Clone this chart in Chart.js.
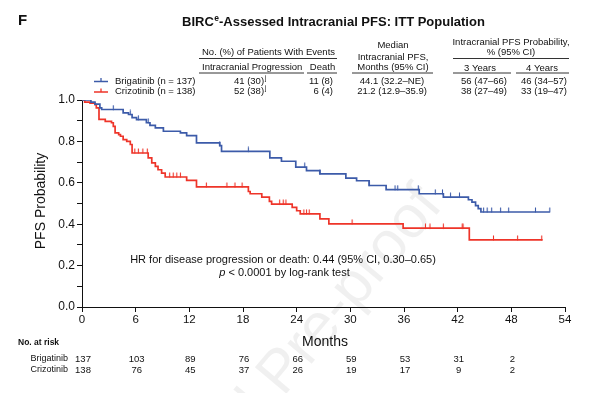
<!DOCTYPE html>
<html>
<head>
<meta charset="utf-8">
<script src="https://cdn.jsdelivr.net/npm/chart.js@4.4.1/dist/chart.umd.min.js"></script>
<style>
  html, body { margin: 0; padding: 0; background: #fff; }
</style>
</head>
<body>
<canvas id="km" width="599" height="393"></canvas>
<script>
// KM steps: month of each drop and the survival after it
const brigTimes = [1.0, 1.45, 2.0, 2.2, 4.6, 5.2, 5.6, 6.1, 7.2, 7.6, 8.2, 9.1, 11.0, 11.7, 12.8, 15.4, 15.6,
    21.0, 22.3, 23.9, 25.1, 26.6, 29.5, 30.7, 32.1, 34.0, 37.7, 40.4, 43.2, 43.6, 44.0, 44.3, 44.6];
const brigSurv = [0.99, 0.98, 0.962, 0.954, 0.938, 0.93, 0.915, 0.905, 0.89, 0.877, 0.865, 0.849, 0.841, 0.828, 0.793, 0.78, 0.752,
    0.72, 0.704, 0.676, 0.659, 0.643, 0.623, 0.61, 0.587, 0.567, 0.547, 0.531, 0.518, 0.507, 0.49, 0.475, 0.459];
const brigCensor = [3.5, 5.4, 6.3, 7.4, 15.4, 18.6, 24.9, 26.6, 32.1, 35.0, 35.3, 37.6, 39.5, 40.3, 41.2, 42.2,
    44.9, 45.3, 45.8, 46.8, 47.7, 50.7, 52.3];
const brigEnd = 52.3;

const crizTimes = [0.3, 0.9, 1.45, 1.6, 1.9, 2.6, 3.3, 3.5, 3.7, 4.1, 4.3, 4.6, 5.0, 5.4, 5.6, 7.4, 7.8, 8.2, 8.5, 8.9, 9.3,
    11.7, 12.8, 18.6, 18.8, 20.1, 20.95, 21.2, 23.5, 24.0, 24.4, 26.6, 27.6, 35.9, 43.3];
const crizSurv = [0.99, 0.985, 0.978, 0.962, 0.906, 0.897, 0.89, 0.873, 0.841, 0.833, 0.825, 0.809, 0.8, 0.785, 0.744, 0.72, 0.696, 0.679, 0.663, 0.647, 0.628,
    0.612, 0.58, 0.558, 0.547, 0.531, 0.51, 0.497, 0.481, 0.465, 0.45, 0.426, 0.402, 0.381, 0.324];
const crizCensor = [5.9, 6.3, 6.8, 7.3, 9.8, 10.2, 10.6, 11.0, 13.9, 16.2, 17.1, 17.9, 22.1, 22.5, 22.8, 24.8, 25.1, 25.4,
    30.2, 38.4, 38.9, 40.4, 42.5, 42.6, 46.0, 48.7, 51.4];
const crizEnd = 51.5;

const monthTicks = [0, 6, 12, 18, 24, 30, 36, 42, 48, 54];
const riskBrig = [137, 103, 89, 76, 66, 59, 53, 31, 2];
const riskCriz = [138, 76, 45, 37, 26, 19, 17, 9, 2];

const armNames = ['Brigatinib (n = 137)', 'Crizotinib (n = 138)'];
const eventsProg = ['41 (30)', '52 (38)'];
const eventsDeath = ['11 (8)', '6 (4)'];
const medianPfs = ['44.1 (32.2\u2013NE)', '21.2 (12.9\u201335.9)'];
const prob3y = ['56 (47\u201366)', '38 (27\u201349)'];
const prob4y = ['46 (34\u201357)', '33 (19\u201347)'];

const BLUE = '#3c5ba9';
const RED = '#ee3429';
const FONT = '"Liberation Sans", Arial, sans-serif';

function stepPoints(times, surv, end) {
    const pts = [{ x: 0, y: 1 }];
    times.forEach((t, i) => pts.push({ x: t, y: surv[i] }));
    pts.push({ x: end, y: surv[surv.length - 1] });
    return pts;
}

function survAt(times, surv, t) {
    let s = 1;
    times.forEach((tt, i) => { if (tt <= t) s = surv[i]; });
    return s;
}

function censorPoints(censor, times, surv) {
    return censor.map(t => ({ x: t, y: survAt(times, surv, t) }));
}

// small upward tick used as censor mark (sits on top of the curve)
function censorTick(color) {
    const c = document.createElement('canvas');
    c.width = 3; c.height = 10;
    const g = c.getContext('2d');
    g.strokeStyle = color;
    g.lineWidth = 1.1;
    g.beginPath();
    g.moveTo(1.5, 0.5);
    g.lineTo(1.5, 5.5);
    g.stroke();
    return c;
}

function txt(ctx, s, x, y, size, align, opts) {
    opts = opts || {};
    ctx.font = (opts.italic ? 'italic ' : '') + (opts.bold ? 'bold ' : '') + size + 'px ' + FONT;
    ctx.textAlign = align || 'left';
    ctx.textBaseline = opts.baseline || 'middle';
    ctx.fillStyle = opts.color || '#111';
    ctx.fillText(s, x, y);
    return ctx.measureText(s).width;
}

function hline(ctx, x1, x2, y) {
    ctx.beginPath();
    ctx.moveTo(x1, y + 0.5);
    ctx.lineTo(x2, y + 0.5);
    ctx.strokeStyle = '#333';
    ctx.lineWidth = 1;
    ctx.stroke();
}

const decorations = {
    id: 'decorations',
    beforeDraw(chart) {
        const ctx = chart.ctx;
        ctx.save();
        ctx.translate(444, 206);
        ctx.rotate(-50 * Math.PI / 180);
        txt(ctx, 'Journal Pre-proof', 0, 0, 60, 'right', { baseline: 'alphabetic', color: 'rgba(0,0,0,0.06)' });
        ctx.restore();
    },
    afterDraw(chart) {
        const ctx = chart.ctx;
        const xs = chart.scales.x;
        ctx.save();

        // panel letter and title
        txt(ctx, 'F', 18, 25, 15, 'left', { bold: true, baseline: 'alphabetic' });
        let x = 182;
        x += txt(ctx, 'BIRC', x, 26, 13, 'left', { bold: true, baseline: 'alphabetic' });
        x += txt(ctx, 'e', x + 0.5, 21, 8.5, 'left', { bold: true, baseline: 'alphabetic' }) + 0.5;
        txt(ctx, '-Assessed Intracranial PFS: ITT Population', x, 26, 13, 'left', { bold: true, baseline: 'alphabetic' });

        // header table
        const fs = 9.5;
        txt(ctx, 'No. (%) of Patients With Events', 202, 52.5, fs, 'left');
        hline(ctx, 199, 337, 58);
        txt(ctx, 'Intracranial Progression', 202, 67.5, fs, 'left');
        hline(ctx, 199, 304, 72.5);
        txt(ctx, 'Death', 322.5, 67.5, fs, 'center');
        hline(ctx, 307, 337, 72.5);
        txt(ctx, 'Median', 393, 45, fs, 'center');
        txt(ctx, 'Intracranial PFS,', 393, 57, fs, 'center');
        txt(ctx, 'Months (95% CI)', 393, 67.5, fs, 'center');
        hline(ctx, 352, 433, 72.5);
        txt(ctx, 'Intracranial PFS Probability,', 511, 42, fs, 'center');
        txt(ctx, '% (95% CI)', 511, 52.5, fs, 'center');
        hline(ctx, 453, 569, 58);
        txt(ctx, '3 Years', 480, 68.5, fs, 'center');
        hline(ctx, 453, 511, 72.5);
        txt(ctx, '4 Years', 542, 68.5, fs, 'center');
        hline(ctx, 516, 569, 72.5);

        [BLUE, RED].forEach((col, i) => {
            const y = 81 + i * 10.5;
            ctx.strokeStyle = col;
            ctx.lineWidth = 1.3;
            ctx.beginPath();
            ctx.moveTo(94, y + 0.5); ctx.lineTo(108, y + 0.5);
            ctx.moveTo(101, y - 3); ctx.lineTo(101, y + 0.5);
            ctx.stroke();
            txt(ctx, armNames[i], 115, y, fs, 'left');
            const w = txt(ctx, eventsProg[i], 249, y, fs, 'center');
            txt(ctx, 'j', 249 + w / 2 + 1, y - 3, 6.5, 'left');
            txt(ctx, eventsDeath[i], 333, y, fs, 'right');
            txt(ctx, medianPfs[i], 392, y, fs, 'center');
            txt(ctx, prob3y[i], 484, y, fs, 'center');
            txt(ctx, prob4y[i], 544, y, fs, 'center');
        });

        // hazard ratio note
        txt(ctx, 'HR for disease progression or death: 0.44 (95% CI, 0.30\u20130.65)', 283, 260, 11, 'center');
        ctx.font = '11px ' + FONT;
        const wRest = ctx.measureText(' < 0.0001 by log-rank test').width;
        ctx.font = 'italic 11px ' + FONT;
        const wP = ctx.measureText('p').width;
        const px = 284.5 - (wRest + wP) / 2;
        txt(ctx, 'p', px, 273, 11, 'left', { italic: true });
        txt(ctx, ' < 0.0001 by log-rank test', px + wP, 273, 11, 'left');

        // axis titles
        txt(ctx, 'Months', 325, 342, 14, 'center');
        ctx.save();
        ctx.translate(41, 201);
        ctx.rotate(-Math.PI / 2);
        txt(ctx, 'PFS Probability', 0, 0, 14, 'center');
        ctx.restore();

        // number at risk
        txt(ctx, 'No. at risk', 18, 343, 8.5, 'left', { bold: true });
        txt(ctx, 'Brigatinib', 68, 359, 9, 'right');
        txt(ctx, 'Crizotinib', 68, 370, 9, 'right');
        riskBrig.forEach((n, i) => txt(ctx, String(n), xs.getPixelForValue(monthTicks[i]) + 1, 359, 9.5, 'center'));
        riskCriz.forEach((n, i) => txt(ctx, String(n), xs.getPixelForValue(monthTicks[i]) + 1, 370, 9.5, 'center'));

        ctx.restore();
    }
};

new Chart(document.getElementById('km'), {
    type: 'line',
    data: {
        datasets: [
            {
                data: stepPoints(brigTimes, brigSurv, brigEnd),
                borderColor: BLUE, borderWidth: 1.7, stepped: 'before', pointRadius: 0, fill: false
            },
            {
                data: stepPoints(crizTimes, crizSurv, crizEnd),
                borderColor: RED, borderWidth: 1.7, stepped: 'before', pointRadius: 0, fill: false
            },
            {
                data: censorPoints(brigCensor, brigTimes, brigSurv),
                showLine: false, pointStyle: censorTick(BLUE), pointRadius: 3
            },
            {
                data: censorPoints(crizCensor, crizTimes, crizSurv),
                showLine: false, pointStyle: censorTick(RED), pointRadius: 3
            }
        ]
    },
    options: {
        responsive: false,
        animation: false,
        devicePixelRatio: 1,
        layout: { padding: { left: 0, top: 100, right: 34, bottom: 0 } },
        plugins: { legend: { display: false }, tooltip: { enabled: false } },
        scales: {
            x: {
                type: 'linear', min: 0, max: 54,
                afterFit: s => { s.height = 86; },
                afterBuildTicks: s => { s.ticks = monthTicks.map(v => ({ value: v })); },
                ticks: { color: '#111', font: { family: FONT, size: 11.5 }, padding: 1, maxRotation: 0 },
                grid: { drawOnChartArea: false, tickLength: 5, color: '#111' },
                border: { color: '#111', width: 1 }
            },
            y: {
                min: 0, max: 1,
                afterFit: s => { s.width = 82; },
                ticks: {
                    stepSize: 0.1, color: '#111', padding: 2,
                    font: { family: FONT, size: 12 },
                    callback: v => (Math.round(v * 10) % 2 === 0 ? v.toFixed(1) : '')
                },
                grid: { drawOnChartArea: false, tickLength: 5, color: '#111' },
                border: { color: '#111', width: 1 }
            }
        }
    },
    plugins: [decorations]
});
</script>
</body>
</html>
